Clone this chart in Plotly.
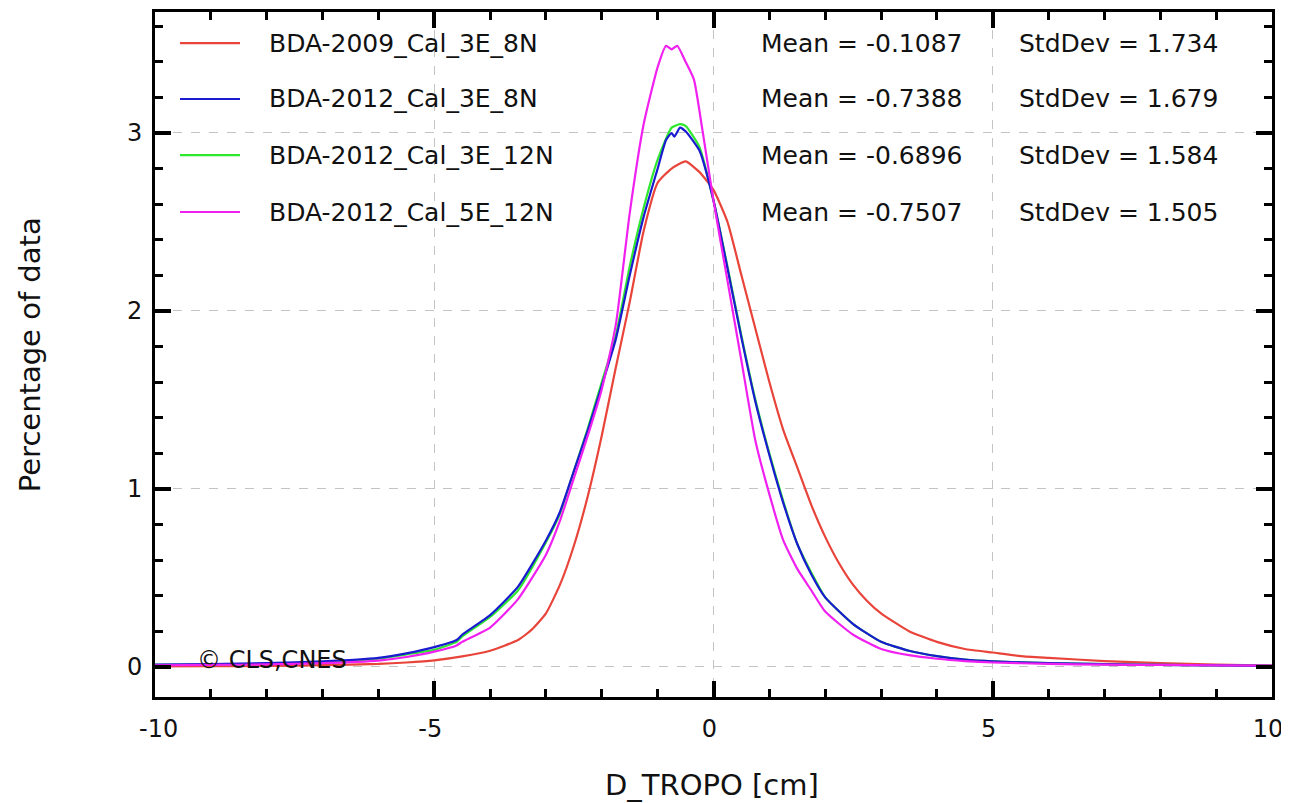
import plotly.graph_objects as go

# ---------------- data ----------------
x_red = [-10, -9, -8, -7, -6, -5.5, -5, -4.5, -4, -3.5, -3.25, -3, -2.75, -2.5, -2.25, -2, -1.75,
         -1.5, -1.25, -1.0, -0.75, -0.5, -0.25, 0, 0.25, 0.5, 0.75, 1.0, 1.25, 1.5, 1.75, 2.0,
         2.25, 2.5, 2.75, 3.0, 3.5, 4.0, 4.5, 5.0, 5.5, 6.0, 7.0, 8.0, 9.0, 10.0]
y_red = [0.002, 0.003, 0.005, 0.009, 0.016, 0.024, 0.036, 0.058, 0.09, 0.15, 0.21, 0.30, 0.46,
         0.68, 0.96, 1.30, 1.68, 2.05, 2.45, 2.72, 2.80, 2.84, 2.78, 2.68, 2.50, 2.20, 1.90,
         1.60, 1.33, 1.12, 0.91, 0.73, 0.58, 0.46, 0.37, 0.30, 0.20, 0.14, 0.10, 0.08, 0.06, 0.05,
         0.032, 0.02, 0.012, 0.006]

x_blue = [-10, -9, -8, -7, -6, -5.5, -5, -4.6, -4.5, -4, -3.5, -3, -2.75, -2.5, -2.25, -2, -1.75,
          -1.5, -1.25, -1.0, -0.85, -0.75, -0.7, -0.6, -0.5, -0.25, 0, 0.25, 0.5, 0.75, 1.0,
          1.25, 1.5, 1.75, 2.0, 2.5, 3.0, 3.5, 4.0, 4.5, 5.0, 6.0, 7.0, 8.0, 9.0, 10.0]
y_blue = [0.012, 0.015, 0.02, 0.03, 0.05, 0.075, 0.11, 0.15, 0.18, 0.29, 0.45, 0.71, 0.87, 1.10,
          1.33, 1.58, 1.84, 2.20, 2.53, 2.80, 2.96, 3.00, 2.98, 3.03, 3.01, 2.90, 2.62, 2.24,
          1.85, 1.49, 1.19, 0.92, 0.69, 0.52, 0.39, 0.24, 0.14, 0.09, 0.06, 0.04, 0.03, 0.02,
          0.015, 0.01, 0.008, 0.005]

x_green = [-10, -9, -8, -7, -6, -5.5, -5, -4.6, -4.5, -4, -3.5, -3, -2.75, -2.5, -2.25, -2, -1.75,
           -1.5, -1.25, -1.0, -0.75, -0.6, -0.5, -0.25, 0, 0.25, 0.5, 0.75, 1.0, 1.25, 1.5,
           1.75, 2.0, 2.5, 3.0, 3.5, 4.0, 4.5, 5.0, 6.0, 7.0, 8.0, 9.0, 10.0]
y_green = [0.01, 0.012, 0.016, 0.025, 0.045, 0.07, 0.095, 0.14, 0.17, 0.28, 0.43, 0.70, 0.86,
           1.10, 1.34, 1.60, 1.86, 2.25, 2.58, 2.85, 3.03, 3.05, 3.04, 2.92, 2.62, 2.25, 1.86,
           1.50, 1.20, 0.93, 0.69, 0.53, 0.39, 0.24, 0.14, 0.09, 0.06, 0.04, 0.03, 0.02, 0.015,
           0.01, 0.008, 0.005]

x_mag = [-10, -9, -8, -7, -6, -5.5, -5, -4.6, -4.5, -4, -3.5, -3, -2.75, -2.5, -2.25, -2, -1.75,
         -1.5, -1.25, -1.0, -0.85, -0.75, -0.65, -0.5, -0.35, -0.2, 0, 0.25, 0.5, 0.75, 1.0,
         1.25, 1.5, 1.75, 2.0, 2.5, 3.0, 3.5, 4.0, 4.5, 5.0, 6.0, 7.0, 8.0, 9.0, 10.0]
y_mag = [0.008, 0.01, 0.013, 0.02, 0.035, 0.055, 0.085, 0.12, 0.14, 0.22, 0.38, 0.63, 0.82,
         1.06, 1.30, 1.56, 1.92, 2.55, 3.05, 3.37, 3.49, 3.47, 3.49, 3.40, 3.30, 3.02, 2.62,
         2.17, 1.72, 1.27, 0.97, 0.71, 0.55, 0.43, 0.31, 0.18, 0.10, 0.065, 0.045, 0.032,
         0.024, 0.016, 0.012, 0.01, 0.008, 0.006]

series_names = ["BDA-2009_Cal_3E_8N", "BDA-2012_Cal_3E_8N", "BDA-2012_Cal_3E_12N", "BDA-2012_Cal_5E_12N"]
series_x = [x_red, x_blue, x_green, x_mag]
series_y = [y_red, y_blue, y_green, y_mag]
series_colors = ["#e8443a", "#1a1ad0", "#2ee82e", "#f020f0"]
means = ["-0.1087", "-0.7388", "-0.6896", "-0.7507"]
stddevs = ["1.734", "1.679", "1.584", "1.505"]

x_ticks = [-10, -5, 0, 5, 10]
x_ticklabels = ["-10", "-5", "0", "5", "10"]
y_ticks = [0, 1, 2, 3]

FONT = "DejaVu Sans"
TXT = "#111111"
NBSP = "\u00a0"

# first label nudged inward like the reference (padding only, values unchanged)
x_ticktext = [(NBSP + NBSP + t) if v == x_ticks[0] else t for v, t in zip(x_ticks, x_ticklabels)]

fig = go.Figure()
# draw order: red, green, blue, magenta (blue over green)
for i in [0, 2, 1, 3]:
    fig.add_trace(go.Scatter(x=series_x[i], y=series_y[i], mode="lines", name=series_names[i],
                             line=dict(color=series_colors[i], width=2.2, shape="spline", smoothing=0.5),
                             showlegend=False))

# legend block (paper coords)
row_y = [0.9547, 0.873, 0.7912, 0.708]
shapes = []
annotations = []
for i in range(4):
    shapes.append(dict(type="line", xref="paper", yref="paper", x0=0.0224, x1=0.0761,
                       y0=row_y[i], y1=row_y[i], line=dict(color=series_colors[i], width=2.2)))
    annotations.append(dict(xref="paper", yref="paper", x=0.1003, y=row_y[i], xanchor="left",
                            yanchor="middle", text=series_names[i], showarrow=False,
                            font=dict(family=FONT, size=25, color=TXT)))
    annotations.append(dict(xref="paper", yref="paper", x=0.5407, y=row_y[i], xanchor="left",
                            yanchor="middle", text="Mean = " + means[i], showarrow=False,
                            font=dict(family=FONT, size=25, color=TXT)))
    annotations.append(dict(xref="paper", yref="paper", x=0.7717, y=row_y[i], xanchor="left",
                            yanchor="middle", text="StdDev = " + stddevs[i], showarrow=False,
                            font=dict(family=FONT, size=25, color=TXT)))

annotations.append(dict(xref="paper", yref="paper", x=0.0358, y=0.054, xanchor="left",
                        yanchor="middle", text="© CLS,CNES", showarrow=False,
                        font=dict(family=FONT, size=24, color=TXT)))

# axis titles
annotations.append(dict(xref="paper", yref="paper", x=0.4987, y=-0.129, xanchor="center",
                        yanchor="middle", text="D_TROPO [cm]", showarrow=False,
                        font=dict(family=FONT, size=29, color=TXT)))
annotations.append(dict(xref="paper", yref="paper", x=-0.1119, y=0.499, xanchor="center",
                        yanchor="middle", text="Percentage of data", showarrow=False, textangle=-90,
                        font=dict(family=FONT, size=29, color=TXT)))

axis_common = dict(showline=True, linecolor="black", linewidth=3, mirror="ticks",
                   ticks="inside", ticklen=16, tickwidth=3.5, tickcolor="black",
                   showgrid=True, gridcolor="#c4c4c4", griddash="dash", gridwidth=1,
                   zeroline=False, automargin=False, ticklabeloverflow="allow",
                   tickfont=dict(family=FONT, size=24, color=TXT))

fig.update_xaxes(range=[-10, 10], tickvals=x_ticks, ticktext=x_ticktext,
                 minor=dict(dtick=1, ticks="inside", ticklen=8, tickwidth=2.5, tickcolor="black", showgrid=False),
                 ticklabelstandoff=8, ticklabelshift=-4,
                 **axis_common)
fig.update_yaxes(range=[-0.17, 3.68], tickvals=y_ticks, ticktext=[str(v) for v in y_ticks],
                 minor=dict(dtick=0.2, tick0=0, ticks="inside", ticklen=8, tickwidth=2.5, tickcolor="black", showgrid=False),
                 ticklabelstandoff=5,
                 **axis_common)

# the page body adds an 8px offset; compensate so the plot area sits where the reference has it
fig.update_layout(width=1281, height=795, margin=dict(l=147, r=17, t=4, b=106),
                  plot_bgcolor="white", paper_bgcolor="white",
                  shapes=shapes, annotations=annotations, showlegend=False)

fig.write_html("out.html")
